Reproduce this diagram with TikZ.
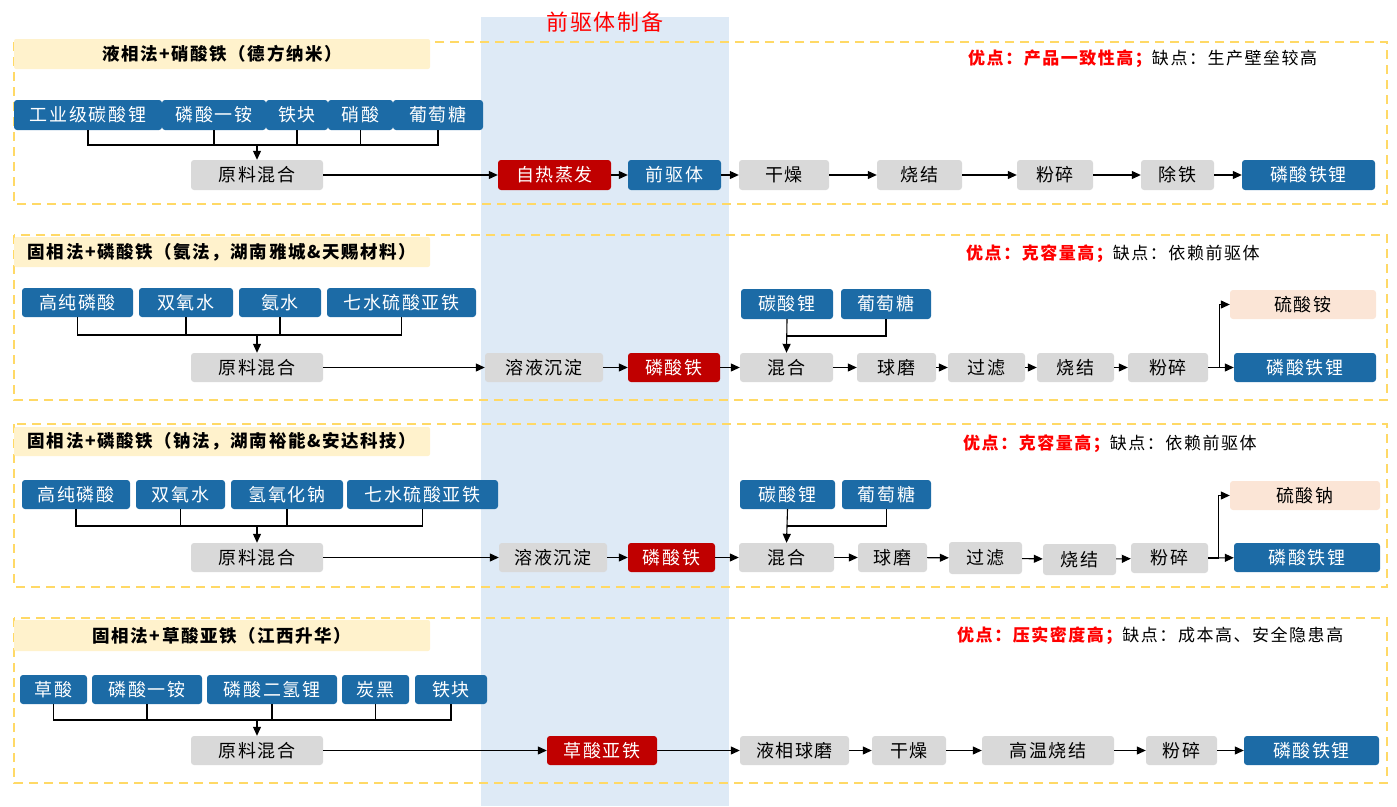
\documentclass[tikz,border=0pt]{standalone}
\usepackage{fontspec}
\newfontfamily\cjk[LetterSpace=9]{Noto Sans CJK SC}
\usetikzlibrary{arrows.meta,calc}
\definecolor{boxblue}{HTML}{1C6BA6}
\definecolor{boxred}{HTML}{C00000}
\definecolor{boxgrey}{HTML}{D9D9D9}
\definecolor{boxpeach}{HTML}{FBE5D6}
\definecolor{hdr}{HTML}{FFF2CC}
\definecolor{frameyellow}{HTML}{FFD966}
\definecolor{bgblue}{HTML}{DEEAF6}
\definecolor{prored}{HTML}{FF0000}
\newcommand\mkbox[7]{\node[#1, minimum width={(#4-#3)*1pt}, minimum height={(#6-#5)*1pt}] (#2) at ({(#3+#4)/2},{(#5+#6)/2}) {#7};}
\tikzset{
  base/.style={rounded corners=3pt, inner sep=0pt, font=\cjk\fontsize{18}{20}\selectfont},
  bbox/.style={base, fill=boxblue, text=white},
  rbox/.style={base, fill=boxred, text=white},
  gbox/.style={base, fill=boxgrey, text=black},
  pbox/.style={base, fill=boxpeach, text=black},
  hbox/.style={base, rounded corners=2pt, fill=hdr, text=black, font=\cjk\bfseries\fontsize{17.5}{20}\selectfont},
  frame/.style={draw=frameyellow, line width=1.6pt, dash pattern=on 9pt off 6pt},
  conn/.style={line width=1.1pt},
  arr/.style={conn, -{Triangle[length=9pt,width=8pt]}},
  pros/.style={anchor=west, inner sep=0pt, font=\cjk\fontsize{17}{19}\selectfont},
}
\begin{document}
\begin{tikzpicture}[x=1pt, y=-1pt]
\useasboundingbox (0,0) rectangle (1397,806);
% precursor column
\fill[bgblue] (481,17) rectangle (729,806);
\node[font=\cjk\fontsize{22}{24}\selectfont, text=prored, inner sep=0pt] (title) at (605,22) {前驱体制备};
% frames
\draw[frame] (14,42) rectangle (1387,204);
\draw[frame] (14,235) rectangle (1387,400);
\draw[frame] (14,424) rectangle (1387,587);
\draw[frame] (14,618) rectangle (1387,783);

% ---------- Section 1 ----------
\mkbox{hbox}{h1}{14}{430}{39}{69}{液相法+硝酸铁（德方纳米）}
\node[pros] (pr1) at (968,59) {\textcolor{prored}{\bfseries 优点：产品一致性高；}缺点：生产壁垒较高};
\mkbox{bbox}{a1}{14}{162}{100}{130}{工业级碳酸锂}
\mkbox{bbox}{a2}{162}{266}{100}{130}{磷酸一铵}
\mkbox{bbox}{a3}{266}{328}{100}{130}{铁块}
\mkbox{bbox}{a4}{328}{393}{100}{130}{硝酸}
\mkbox{bbox}{a5}{393}{483}{100}{130}{葡萄糖}
\mkbox{gbox}{mix1}{191}{323}{160}{190}{原料混合}
\mkbox{rbox}{s1}{498}{611}{160}{190}{自热蒸发}
\mkbox{bbox}{p1}{628}{721}{160}{190}{前驱体}
\mkbox{gbox}{d1}{739}{829}{160}{190}{干燥}
\mkbox{gbox}{k1}{877}{962}{160}{190}{烧结}
\mkbox{gbox}{f1}{1017}{1093}{160}{190}{粉碎}
\mkbox{gbox}{r1}{1141}{1214}{160}{190}{除铁}
\mkbox{bbox}{l1}{1242}{1375}{160}{190}{磷酸铁锂}
\coordinate (j1) at (257,145);
\draw[conn] (a1.south) |- (j1) -| (a5.south);
\draw[conn] (a2.south) -- (a2.south |- j1);
\draw[conn] (a3.south) -- (a3.south |- j1);
\draw[conn] (a4.south) -- (a4.south |- j1);
\draw[arr] (j1) -- (mix1.north);
\draw[arr] (mix1) -- (s1);
\draw[arr] (s1) -- (p1);
\draw[arr] (p1) -- (d1);
\draw[arr] (d1) -- (k1);
\draw[arr] (k1) -- (f1);
\draw[arr] (f1) -- (r1);
\draw[arr] (r1) -- (l1);

% ---------- Section 2 ----------
\mkbox{hbox}{h2}{14}{430}{237}{267}{固相法+磷酸铁（氨法，湖南雅城\&天赐材料）}
\node[pros] (pr2) at (966,254) {\textcolor{prored}{\bfseries 优点：克容量高；}缺点：依赖前驱体};
\mkbox{bbox}{b1}{22}{133}{288}{317}{高纯磷酸}
\mkbox{bbox}{b2}{139}{233}{288}{317}{双氧水}
\mkbox{bbox}{b3}{239}{321}{288}{317}{氨水}
\mkbox{bbox}{b4}{327}{476}{288}{317}{七水硫酸亚铁}
\mkbox{gbox}{mix2}{191}{323}{353}{382}{原料混合}
\mkbox{gbox}{sol2}{485}{603}{353}{382}{溶液沉淀}
\mkbox{rbox}{fe2}{628}{720}{353}{382}{磷酸铁}
\mkbox{gbox}{m2}{740}{833}{353}{382}{混合}
\mkbox{gbox}{q2}{857}{936}{353}{382}{球磨}
\mkbox{gbox}{g2}{948}{1025}{353}{382}{过滤}
\mkbox{gbox}{k2}{1037}{1114}{353}{382}{烧结}
\mkbox{gbox}{f2}{1128}{1208}{353}{382}{粉碎}
\mkbox{bbox}{l2}{1234}{1376}{353}{382}{磷酸铁锂}
\mkbox{bbox}{c2}{741}{833}{289}{319}{碳酸锂}
\mkbox{bbox}{u2}{841}{931}{289}{319}{葡萄糖}
\mkbox{pbox}{sa2}{1230}{1376}{290}{319}{硫酸铵}
\coordinate (j2) at (257,335);
\draw[conn] (b1.south) |- (j2) -| (b4.south);
\draw[conn] (b2.south) -- (b2.south |- j2);
\draw[conn] (b3.south) -- (b3.south |- j2);
\draw[arr] (j2) -- (mix2.north);
\draw[arr] (mix2) -- (sol2);
\draw[arr] (sol2) -- (fe2);
\draw[arr] (fe2) -- (m2);
\draw[arr] (m2) -- (q2);
\draw[arr] (q2) -- (g2);
\draw[arr] (g2) -- (k2);
\draw[arr] (k2) -- (f2);
\draw[arr] (f2) -- (l2);
\draw[arr] (c2.south) -- (m2.north);
\draw[conn] (u2.south) |- ($(c2.south)!0.5!(m2.north)$);
\draw[arr] (f2.east) -- ++(11,0) |- (sa2.west);

% ---------- Section 3 ----------
\mkbox{hbox}{h3}{14}{430}{427}{456}{固相法+磷酸铁（钠法，湖南裕能\&安达科技）}
\node[pros] (pr3) at (963,444) {\textcolor{prored}{\bfseries 优点：克容量高；}缺点：依赖前驱体};
\mkbox{bbox}{t1}{22}{130}{480}{509}{高纯磷酸}
\mkbox{bbox}{t2}{136}{225}{480}{509}{双氧水}
\mkbox{bbox}{t3}{231}{343}{480}{509}{氢氧化钠}
\mkbox{bbox}{t4}{347}{498}{480}{509}{七水硫酸亚铁}
\mkbox{gbox}{mix3}{191}{323}{543}{572}{原料混合}
\mkbox{gbox}{sol3}{499}{607}{543}{572}{溶液沉淀}
\mkbox{rbox}{fe3}{628}{715}{543}{572}{磷酸铁}
\mkbox{gbox}{m3}{739}{834}{543}{572}{混合}
\mkbox{gbox}{q3}{858}{927}{543}{572}{球磨}
\mkbox{gbox}{g3}{949}{1022}{542}{574}{过滤}
\mkbox{gbox}{k3}{1043}{1116}{544}{575}{烧结}
\mkbox{gbox}{f3}{1131}{1208}{543}{573}{粉碎}
\mkbox{bbox}{l3}{1234}{1380}{543}{572}{磷酸铁锂}
\mkbox{bbox}{c3}{740}{835}{480}{509}{碳酸锂}
\mkbox{bbox}{u3}{842}{931}{480}{509}{葡萄糖}
\mkbox{pbox}{sa3}{1230}{1380}{481}{510}{硫酸钠}
\coordinate (j3) at (257,526);
\draw[conn] (t1.south) |- (j3) -| (t4.south);
\draw[conn] (t2.south) -- (t2.south |- j3);
\draw[conn] (t3.south) -- (t3.south |- j3);
\draw[arr] (j3) -- (mix3.north);
\draw[arr] (mix3) -- (sol3);
\draw[arr] (sol3) -- (fe3);
\draw[arr] (fe3) -- (m3);
\draw[arr] (m3) -- (q3);
\draw[arr] (q3) -- (g3);
\draw[arr] (g3) -- (k3);
\draw[arr] (k3) -- (f3);
\draw[arr] (f3) -- (l3);
\draw[arr] (c3.south) -- (m3.north);
\draw[conn] (u3.south) |- ($(c3.south)!0.5!(m3.north)$);
\draw[arr] (f3.east) -- ++(10,0) |- (sa3.west);

% ---------- Section 4 ----------
\mkbox{hbox}{h4}{14}{430}{620}{651}{固相法+草酸亚铁（江西升华）}
\node[pros] (pr4) at (957,636) {\textcolor{prored}{\bfseries 优点：压实密度高；}缺点：成本高、安全隐患高};
\mkbox{bbox}{v1}{20}{87}{675}{704}{草酸}
\mkbox{bbox}{v2}{92}{202}{675}{704}{磷酸一铵}
\mkbox{bbox}{v3}{207}{337}{675}{704}{磷酸二氢锂}
\mkbox{bbox}{v4}{342}{409}{675}{704}{炭黑}
\mkbox{bbox}{v5}{415}{487}{675}{704}{铁块}
\mkbox{gbox}{mix4}{191}{323}{736}{765}{原料混合}
\mkbox{rbox}{ox4}{547}{657}{736}{765}{草酸亚铁}
\mkbox{gbox}{w4}{740}{849}{736}{765}{液相球磨}
\mkbox{gbox}{d4}{872}{946}{736}{765}{干燥}
\mkbox{gbox}{k4}{982}{1114}{736}{765}{高温烧结}
\mkbox{gbox}{f4}{1146}{1217}{736}{765}{粉碎}
\mkbox{bbox}{l4}{1244}{1379}{736}{765}{磷酸铁锂}
\coordinate (j4) at (257,720);
\draw[conn] (v1.south) |- (j4) -| (v5.south);
\draw[conn] (v2.south) -- (v2.south |- j4);
\draw[conn] (v3.south) -- (v3.south |- j4);
\draw[conn] (v4.south) -- (v4.south |- j4);
\draw[arr] (j4) -- (mix4.north);
\draw[arr] (mix4) -- (ox4);
\draw[arr] (ox4) -- (w4);
\draw[arr] (w4) -- (d4);
\draw[arr] (d4) -- (k4);
\draw[arr] (k4) -- (f4);
\draw[arr] (f4) -- (l4);
\end{tikzpicture}
\end{document}
